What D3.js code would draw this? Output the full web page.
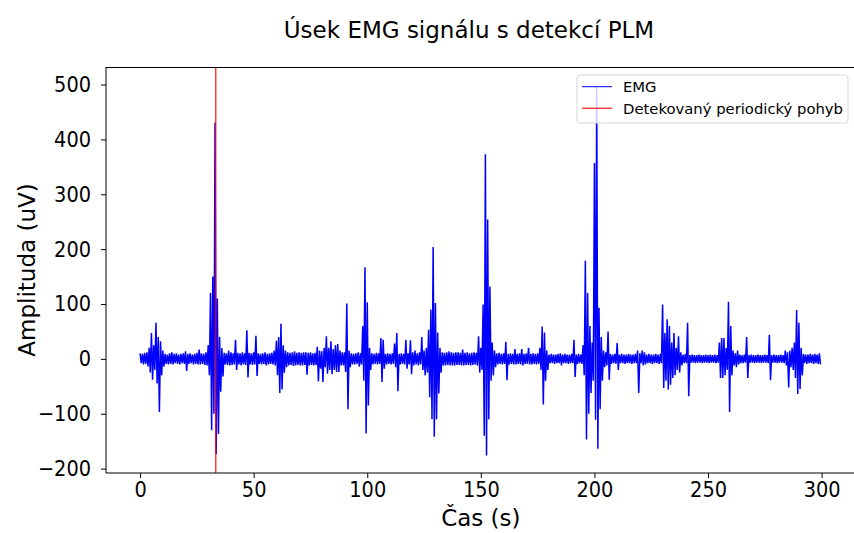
<!DOCTYPE html>
<html>
<head>
<meta charset="utf-8">
<script src="https://cdn.jsdelivr.net/npm/d3@7"></script>
<style>
  body { margin: 0; background: #fff; }
  svg { display: block; font-family: "DejaVu Sans", sans-serif; }
</style>
</head>
<body>
<svg id="chart" width="854" height="533"></svg>
<script>
// EMG envelope, one bin per second (0..299 s): max and min in uV
const emgMax = [
  10, 9, 11, 12, 20, 47, 25, 66, 40, 32,
  15, 9, 8, 10, 12, 9, 10, 8, 9, 10,
  14, 9, 10, 8, 9, 11, 17, 10, 9, 12,
  25, 120, 150, 431, 110, 40, 20, 11, 10, 15,
  12, 10, 35, 11, 10, 12, 10, 52, 11, 10,
  12, 42, 10, 9, 10, 12, 9, 10, 11, 15,
  33, 40, 64, 25, 15, 12, 11, 12, 14, 11,
  12, 11, 12, 12, 11, 12, 10, 11, 22, 15,
  14, 20, 41, 20, 32, 18, 25, 27, 15, 12,
  12, 101, 15, 10, 9, 10, 12, 10, 60, 167,
  103, 20, 10, 9, 11, 10, 38, 35, 9, 10,
  9, 10, 28, 47, 9, 10, 9, 35, 10, 34,
  12, 15, 10, 12, 40, 15, 20, 53, 90, 204,
  102, 48, 20, 12, 11, 12, 14, 12, 11, 12,
  12, 11, 17, 11, 12, 10, 11, 12, 11, 41,
  20, 99, 373, 254, 132, 30, 15, 10, 11, 9,
  10, 31, 9, 10, 9, 18, 9, 10, 18, 9,
  10, 20, 9, 10, 9, 10, 20, 59, 48, 15,
  8, 9, 8, 8, 9, 10, 8, 9, 8, 8,
  9, 35, 8, 9, 8, 25, 179, 120, 60, 30,
  357, 497, 93, 40, 15, 12, 50, 9, 8, 9,
  29, 8, 9, 8, 8, 9, 8, 8, 9, 15,
  10, 15, 12, 8, 9, 8, 8, 9, 8, 9,
  99, 47, 72, 60, 30, 47, 20, 41, 12, 8,
  9, 66, 7, 8, 7, 7, 8, 7, 7, 8,
  7, 8, 7, 8, 7, 30, 38, 38, 20, 104,
  60, 15, 10, 15, 8, 7, 8, 40, 7, 8,
  7, 7, 8, 7, 7, 8, 7, 44, 7, 8,
  7, 7, 8, 7, 15, 12, 15, 20, 30, 89,
  66, 20, 9, 8, 8, 9, 8, 9, 8, 10
]
const emgMin = [
  -8, -10, -9, -14, -25, -38, -20, -45, -97, -30,
  -14, -9, -10, -9, -10, -8, -9, -10, -8, -9,
  -22, -9, -8, -10, -9, -10, -10, -9, -11, -12,
  -30, -130, -100, -174, -137, -60, -32, -10, -11, -12,
  -11, -10, -20, -10, -12, -10, -11, -34, -10, -11,
  -10, -31, -9, -10, -9, -12, -10, -9, -10, -12,
  -30, -62, -56, -25, -15, -12, -11, -13, -12, -11,
  -12, -12, -11, -29, -12, -11, -12, -11, -41, -18,
  -42, -15, -27, -20, -28, -20, -24, -24, -12, -12,
  -24, -92, -15, -10, -10, -9, -14, -10, -40, -136,
  -85, -20, -10, -9, -10, -9, -42, -18, -10, -9,
  -10, -9, -15, -59, -10, -9, -10, -18, -10, -28,
  -12, -10, -12, -10, -20, -30, -25, -70, -110, -142,
  -110, -63, -25, -12, -12, -11, -12, -12, -12, -11,
  -11, -12, -12, -11, -11, -12, -11, -10, -12, -25,
  -20, -140, -176, -110, -40, -30, -15, -10, -9, -10,
  -9, -39, -10, -9, -10, -10, -9, -10, -12, -9,
  -9, -10, -10, -9, -10, -9, -20, -83, -40, -20,
  -8, -8, -9, -8, -8, -12, -8, -8, -9, -8,
  -8, -33, -9, -8, -9, -30, -147, -100, -62, -40,
  -111, -164, -92, -40, -15, -12, -38, -9, -8, -9,
  -20, -8, -8, -9, -8, -8, -9, -8, -8, -62,
  -8, -12, -10, -8, -8, -9, -8, -8, -9, -8,
  -53, -40, -56, -47, -35, -30, -20, -25, -12, -8,
  -8, -68, -7, -7, -8, -7, -7, -8, -7, -7,
  -8, -7, -7, -8, -7, -35, -35, -30, -20, -97,
  -30, -12, -15, -10, -8, -8, -7, -35, -7, -7,
  -8, -7, -7, -8, -7, -7, -8, -39, -7, -7,
  -8, -7, -7, -8, -12, -52, -15, -20, -35, -64,
  -55, -30, -8, -9, -8, -8, -9, -8, -9, -10
]
const plmTimes = [33.3]
const xTicks = [0, 50, 100, 150, 200, 250, 300]
const yTicks = [-200, -100, 0, 100, 200, 300, 400, 500]
const legendLabels = ['EMG', 'Detekovaný periodický pohyb']
const legendColors = ['#0000ff', '#ff0000']

const svg = d3.select('#chart')
const plotLeft = 106, plotRight = 855.7, plotTop = 67, plotBottom = 473

const xScale = d3.scaleLinear().domain([-15, 315]).range([plotLeft, plotRight])
const yScale = d3.scaleLinear().domain([-208, 532]).range([plotBottom, plotTop])

// zigzag between max and min of each second so it reads like the dense raw signal
const points = []
emgMax.forEach((v, i) => {
  points.push([i, v])
  points.push([i + 0.5, emgMin[i]])
})

const plot = svg.append('g')

plot.append('path')
  .datum(points)
  .attr('fill', 'none')
  .attr('stroke', '#0000ff')
  .attr('stroke-width', 1.5)
  .attr('stroke-linejoin', 'bevel')
  .attr('d', d3.line().x(d => xScale(d[0])).y(d => yScale(d[1])))

plot.selectAll('.plm')
  .data(plmTimes)
  .enter()
  .append('line')
  .attr('class', 'plm')
  .attr('x1', d => xScale(d))
  .attr('x2', d => xScale(d))
  .attr('y1', plotTop)
  .attr('y2', plotBottom)
  .attr('stroke', '#ff0000')
  .attr('stroke-opacity', 0.75)
  .attr('stroke-width', 1.5)

// axes
const xAxis = svg.append('g')
  .attr('transform', `translate(0, ${plotBottom})`)
  .call(d3.axisBottom(xScale).tickValues(xTicks).tickSize(5).tickPadding(4))
xAxis.select('.domain').remove()

const yAxis = svg.append('g')
  .attr('transform', `translate(${plotLeft}, 0)`)
  .call(d3.axisLeft(yScale).tickValues(yTicks).tickSize(5).tickPadding(10)
    .tickFormat(d => d < 0 ? '\u2212' + Math.abs(d) : d))
yAxis.select('.domain').remove()

svg.selectAll('.tick text')
  .attr('fill', '#000')
  .style('font-family', '"DejaVu Sans Condensed", "DejaVu Sans", sans-serif')
  .style('font-size', '21.5px')
svg.selectAll('.tick line').attr('stroke', '#000')

// spines
svg.append('line').attr('x1', plotLeft).attr('x2', plotRight).attr('y1', plotTop + 0.5).attr('y2', plotTop + 0.5).attr('stroke', '#000')
svg.append('line').attr('x1', plotLeft).attr('x2', plotRight).attr('y1', plotBottom).attr('y2', plotBottom).attr('stroke', '#000')
svg.append('line').attr('x1', plotLeft).attr('x2', plotLeft).attr('y1', plotTop).attr('y2', plotBottom).attr('stroke', '#000')
svg.append('line').attr('x1', plotRight).attr('x2', plotRight).attr('y1', plotTop).attr('y2', plotBottom).attr('stroke', '#000')

// titles
svg.append('text')
  .attr('x', 469)
  .attr('y', 38)
  .attr('text-anchor', 'middle')
  .style('font-size', '23px')
  .text('Úsek EMG signálu s detekcí PLM')

svg.append('text')
  .attr('x', (plotLeft + plotRight) / 2)
  .attr('y', 526)
  .attr('text-anchor', 'middle')
  .style('font-size', '23px')
  .text('Čas (s)')

svg.append('text')
  .attr('transform', `translate(35, ${(plotTop + plotBottom) / 2}) rotate(-90)`)
  .attr('text-anchor', 'middle')
  .style('font-size', '23px')
  .text('Amplituda (uV)')

// legend
const legend = svg.append('g')
legend.append('rect')
  .attr('x', 577)
  .attr('y', 75)
  .attr('width', 271)
  .attr('height', 48)
  .attr('rx', 3)
  .attr('fill', '#fff')
  .attr('fill-opacity', 0.8)
  .attr('stroke', '#d6d6d6')

const items = legend.selectAll('.item')
  .data(legendLabels)
  .enter()
  .append('g')
  .attr('transform', (d, i) => `translate(0, ${86.7 + i * 21.6})`)

items.append('line')
  .attr('x1', 582)
  .attr('x2', 612)
  .attr('stroke', (d, i) => legendColors[i])
  .attr('stroke-opacity', (d, i) => i === 1 ? 0.75 : 1)
  .attr('stroke-width', (d, i) => i === 1 ? 1.5 : 1)

items.append('text')
  .attr('x', 623)
  .attr('y', 5.3)
  .style('font-size', '14.8px')
  .text(d => d)
</script>
</body>
</html>
